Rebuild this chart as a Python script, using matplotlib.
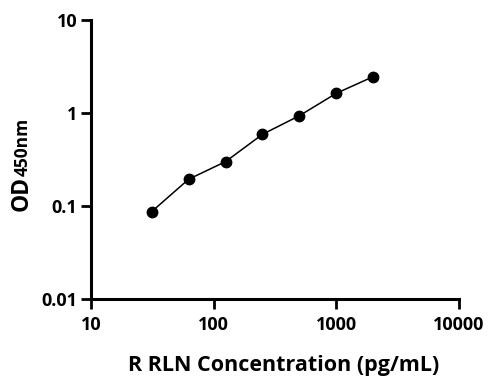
import matplotlib.pyplot as plt
from matplotlib.ticker import FixedLocator, NullLocator

# standard concentrations and measured OD
conc = [31.25, 62.5, 125, 250, 500, 1000, 2000]
od = [0.087, 0.194, 0.30, 0.59, 0.935, 1.63, 2.46]

x_ticks = [10, 100, 1000, 10000]
x_tick_labels = ["10", "100", "1000", "10000"]
y_ticks = [0.01, 0.1, 1, 10]
y_tick_labels = ["0.01", "0.1", "1", "10"]

plt.rcParams["font.family"] = ["Open Sans", "DejaVu Sans"]
plt.rcParams["font.weight"] = "bold"

fig = plt.figure(figsize=(4.98, 3.91), dpi=100)
ax = fig.add_axes([91 / 498, 1 - 299 / 391, 368 / 498, 279 / 391])

ax.plot(conc, od, color="black", lw=1.1, marker="o", ms=7.5)

ax.set_xscale("log")
ax.set_yscale("log")
ax.set_xlim(10, 10000)
ax.set_ylim(0.01, 10)
ax.xaxis.set_major_locator(FixedLocator(x_ticks))
ax.yaxis.set_major_locator(FixedLocator(y_ticks))
ax.xaxis.set_minor_locator(NullLocator())
ax.yaxis.set_minor_locator(NullLocator())
ax.set_xticklabels(x_tick_labels)
ax.set_yticklabels(y_tick_labels)
ax.tick_params(axis="both", which="major", labelsize=13, width=2, length=7)
ax.tick_params(axis="x", pad=5)
ax.tick_params(axis="y", pad=3)

for side in ["top", "right"]:
    ax.spines[side].set_visible(False)
for side in ["left", "bottom"]:
    ax.spines[side].set_linewidth(2.2)

# x label
fig.text(283.5 / 498, 1 - 371 / 391, "R RLN Concentration (pg/mL)",
         fontsize=15.5, fontweight="bold", ha="center", va="baseline")

# y label with smaller 450nm part
fig.text(0.044, 1 - 176 / 391, "OD", rotation=90, fontsize=16.5, fontweight="bold", ha="center", va="top")
fig.text(0.046, 1 - 176 / 391, "450nm", rotation=90, fontsize=12.5, fontweight="bold", ha="center", va="bottom")

fig.savefig("out.png", dpi=100)
